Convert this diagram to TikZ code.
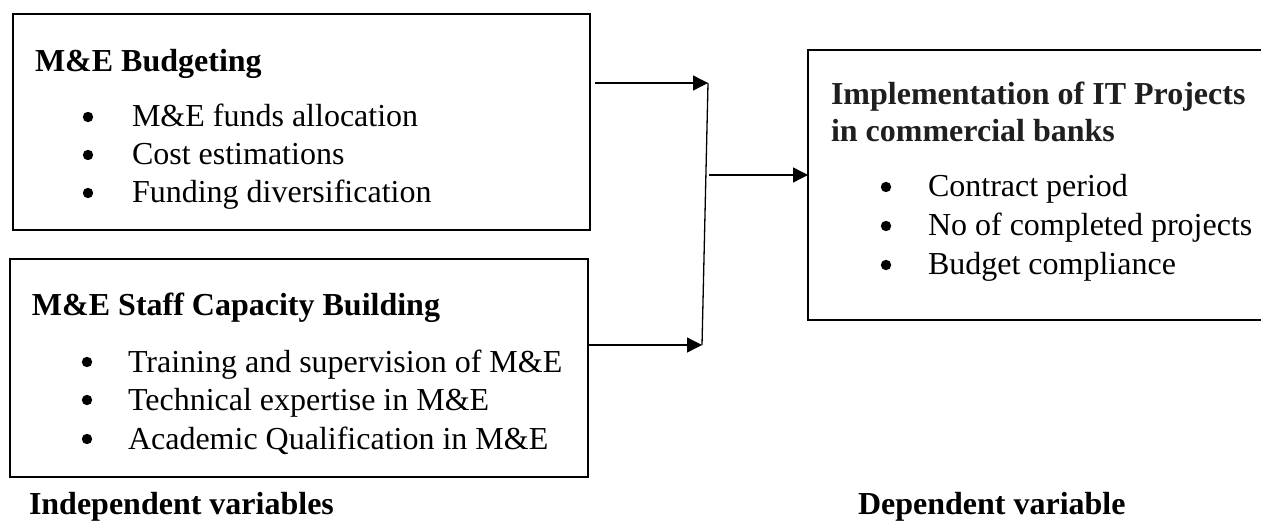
\documentclass[tikz,border=0pt]{standalone}
\usepackage{fontspec}
\setmainfont{Liberation Serif}
\usetikzlibrary{arrows.meta}
\tikzset{
  x=0.5pt, y=-0.5pt,
  boxframe/.style={draw=black, line width=1.1pt, fill=none, inner sep=0pt, outer sep=0pt, rectangle},
  txt/.style={inner sep=0pt, outer sep=0pt, anchor=base west, font=\fontsize{16}{20}\selectfont},
  ttl/.style={txt, font=\fontsize{16}{20}\selectfont\bfseries},
  dot/.style={circle, fill=black, draw=none, inner sep=0pt, outer sep=0pt, minimum size=5.2pt},
  conn/.style={draw=black, line width=0.65pt},
  arr/.style={conn, -{Triangle[length=7.5pt,width=7.5pt]}},
}
\begin{document}
\begin{tikzpicture}
\useasboundingbox (0,0) rectangle (1261,523);
\clip (0,0) rectangle (1261,523);
% boxes
\node[boxframe, minimum width=288.5pt, minimum height=108pt] (box1) at (301.5,122) {};
\node[boxframe, minimum width=289pt, minimum height=109pt] (box2) at (299,368) {};
\node[boxframe, minimum width=241pt, minimum height=135pt] (box3) at (1049,185) {};
% box 1 text
\node[ttl] (t1) at (35,72) {M\&E Budgeting};
\node[dot] (b11) at (88,117) {};
\node[txt] (i11) at (132,127) {M\&E funds allocation};
\node[dot] (b12) at (88,155) {};
\node[txt] (i12) at (132,165) {Cost estimations};
\node[dot] (b13) at (88,193) {};
\node[txt] (i13) at (132,203) {Funding diversification};
% box 2 text
\node[ttl] (t2) at (32,315) {M\&E Staff Capacity Building};
\node[dot] (b21) at (87,362) {};
\node[txt] (i21) at (128,372) {Training and supervision of M\&E};
\node[dot] (b22) at (87,400) {};
\node[txt] (i22) at (128,410) {Technical expertise in M\&E};
\node[dot] (b23) at (87,439) {};
\node[txt] (i23) at (128,449) {Academic Qualification in M\&E};
% box 3 text
\node[ttl, text=black!88] (t3a) at (831,105) {Implementation of IT Projects};
\node[ttl, text=black!88] (t3b) at (831,142) {in commercial banks};
\node[dot] (b31) at (886,187) {};
\node[txt] (i31) at (928,197) {Contract period};
\node[dot] (b32) at (886,226) {};
\node[txt] (i32) at (928,236) {No of completed projects};
\node[dot] (b33) at (886,265) {};
\node[txt] (i33) at (928,275) {Budget compliance};
% labels
\node[ttl] (ind) at (29,514) {Independent variables};
\node[ttl] (dep) at (858,514) {Dependent variable};
% connectors
\coordinate (s1) at ([xshift=2.5pt]box1.east |- 0,83);
\coordinate (j1) at (708,83);
\coordinate (s2) at (box2.east |- 0,345);
\coordinate (j2) at (702,345);
\coordinate (jm) at (709,175);
\coordinate (e3) at (box3.west |- 0,175);
\draw[arr] (s1) -- (j1);
\draw[arr] (s2) -- (j2);
\draw[conn] (j1) -- (j2);
\draw[arr] (jm) -- (e3);
\end{tikzpicture}
\end{document}
